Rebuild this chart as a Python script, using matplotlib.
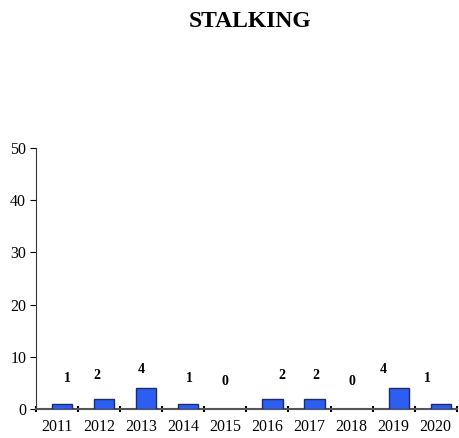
import matplotlib
matplotlib.use("Agg")
import matplotlib.pyplot as plt
import numpy as np

years = ["2011", "2012", "2013", "2014", "2015", "2016", "2017", "2018", "2019", "2020"]
counts = [1, 2, 4, 1, 0, 2, 2, 0, 4, 1]
y_ticks = [0, 10, 20, 30, 40, 50]

plt.rcParams['font.family'] = ['Liberation Serif', 'DejaVu Serif']

fig = plt.figure(figsize=(4.6, 4.38), dpi=100)
ax = fig.add_axes([0.078, 0.066, 0.915, 0.596])

x = np.arange(len(years))
heights = [v * 0.9 for v in counts]
bars = ax.bar(x + 0.12, counts, width=0.48, color='#2d5ef2', edgecolor='#1c2c66',
              linewidth=1.0, zorder=3)
for b, v in zip(bars, counts):
    if v == 0:
        b.set_visible(False)

label_dx = [0.25, -0.05, 0.0, 0.15, 0.0, 0.35, 0.15, 0.0, -0.25, -0.2]
for xi, v, dx in zip(x, counts, label_dx):
    ax.text(xi + dx, 5.2 + 0.6 * v, str(v), ha='center', va='center',
            fontsize=10, fontweight='bold', zorder=5)

ax.set_xlim(-0.5, len(years) - 0.5)
ax.set_ylim(0, 50)
ax.set_yticks(y_ticks)
ax.tick_params(axis='y', labelsize=11.5, length=4, direction='out', pad=3)
ax.set_xticks(x)
ax.set_xticklabels(years, fontsize=11.5)
ax.tick_params(axis='x', length=0, pad=7)
ax.set_xticks(np.arange(-0.5, len(years)), minor=True)
ax.tick_params(axis='x', which='minor', length=5, width=1.5, direction='inout')

for s in ['top', 'right']:
    ax.spines[s].set_visible(False)
ax.spines['left'].set_color('#333333')
ax.spines['bottom'].set_color('#555555')
ax.spines['bottom'].set_linewidth(1.5)

fig.text(0.543, 0.95, 'STALKING', ha='center', va='center', fontsize=17, fontweight='bold')

fig.savefig('out.png', dpi=100)
